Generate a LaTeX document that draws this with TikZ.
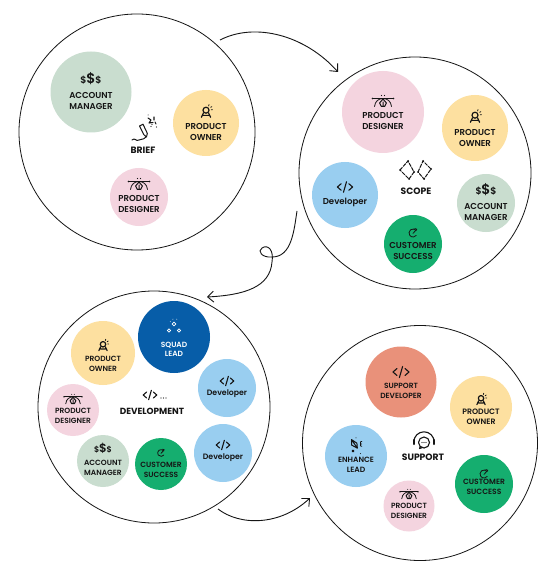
\documentclass[tikz,border=0pt]{standalone}
\usepackage{fontspec}
\setmainfont{Poppins}
\newfontfamily\labf{Poppins SemiBold}
\newfontfamily\headf{Poppins}
\usetikzlibrary{arrows.meta,calc}
\definecolor{sage}{HTML}{C9DDCF}
\definecolor{sun}{HTML}{FDE0A0}
\definecolor{rose}{HTML}{F4D4DF}
\definecolor{sky}{HTML}{99CEF0}
\definecolor{leaf}{HTML}{15AE6F}
\definecolor{navy}{HTML}{075DA8}
\definecolor{salmon}{HTML}{E9917A}
\definecolor{ink}{HTML}{151515}
\tikzset{
  big/.style={circle,draw=ink,line width=0.8pt,inner sep=0pt,outer sep=0pt,fill=white},
  bubble/.style={circle,inner sep=0pt,outer sep=0pt},
  lab/.style={align=center,inner sep=0pt,text=ink},
  head/.style={inner sep=0pt,text=ink,font=\headf\bfseries\fontsize{9.2}{11}\selectfont},
  flow/.style={draw=ink,line width=0.9pt,-{Straight Barb[length=6pt,width=11pt]}},
  ic/.style={draw=ink,line width=0.8pt,fill=none,line cap=round,line join=round},
  pics/tagcode/.style={code={
    \draw[ic,line width=1.1pt] (-4,-3.5)--(-8,0)--(-4,3.5) (4,-3.5)--(8,0)--(4,3.5) (1.6,-5.5)--(-1.6,5.5);}},
  pics/money/.style={code={
    \node[transform shape,inner sep=0pt,text=ink,font=\labf\fontsize{9.5}{10}\selectfont] at (-7.4,1) {\$};
    \node[transform shape,inner sep=0pt,text=ink,font=\labf\fontsize{9.5}{10}\selectfont] at (7.4,1) {\$};
    \node[transform shape,inner sep=0pt,text=ink,font=\labf\fontsize{14}{15}\selectfont] at (0,-0.5) {\$};}},
  pics/owner/.style={code={
    \draw[ic,line width=1.2pt] (0,-0.8) circle (3);
    \draw[ic,line width=1.2pt] (-4.6,6.3)--(-2.6,2) (4.6,6.3)--(2.6,2) (-2.6,4.4)--(2.6,4.4);
    \draw[ic] (2.6,-5)--(3,-6.4) (4.6,-3.6)--(5.8,-4.4) (5.2,-1.2)--(6.4,-1.2);}},
  pics/designer/.style={code={
    \draw[ic] (-10.5,-2.5)--(10.5,-2.5);
    \draw[ic] (-8.5,5.5) .. controls (-8,0) and (-4,-2.5) .. (0,-2.5) .. controls (4,-2.5) and (8,0) .. (8.5,5.5);
    \draw[ic,line width=1pt] (0,-2)--(-3.4,2)--(-1.6,5.5)--(1.6,5.5)--(3.4,2)--cycle (0,1)--(0,5.5);
    \fill[ink] (-10.5,-2.5) circle (0.9) (10.5,-2.5) circle (0.9) (-1.5,-5.5) circle (0.6) (1.5,-5.5) circle (0.6);}},
  pics/target/.style={code={
    \draw[ic] (3.2,-2.4) arc[start angle=-37,end angle=-323,radius=4];
    \draw[ic] (0,0.4)--(3.8,-3.8) (1.8,-4.4)--(3.8,-3.8);}},
  pics/squad/.style={code={
    \draw[draw=white,line width=0.8pt] (0,-1) circle (1.9) (-5,5.5) circle (1.6) (5,5.5) circle (1.6);
    \draw[draw=white,line width=0.8pt] (-3.6,-3.2)--(-4,-3.5) (-1,-5.6)--(-1.2,-6.1) (2.6,-5.6)--(2.9,-6);}},
  pics/enhance/.style={code={
    \draw[ic,line width=1pt] (-5,-6)--(-5,0)--(1.5,3.5)--(1,-2)--cycle (-5,-6)--(1.5,3.5);
    \fill[ink] (-4.5,5.5) rectangle (-2,8) (5,9.5) circle (0.6) (0,-8) circle (0.6);
    \draw[ic] (6.5,-4)--(5,-3.5)--(5,1)--(6.5,1.5) (5,-1.2)--(6.3,-1.2);}},
  pics/briefmark/.style={code={
    \draw[ic,line width=1pt] (-11,12) .. controls (-8,9) and (-7,14) .. (-4,12) .. controls (-2,10) and (-1,13) .. (3,9);
    \draw[ic,line width=1pt] (-3.5,-2)--(0,-3.8)--(4.3,5.3)--(3.5,9)--(0.8,6.6)--cycle;
    \draw[ic,line width=1.1pt] (5,-10)--(8,-8)--(6,-5)--(10,-5.5) (11,-11)--(11,-8) (12,-6)--(13,-4);
    \fill[ink] (13.5,-1) circle (0.7) (8,-1.5) circle (0.7) (5,-13) circle (0.5) (9,-3.5) circle (0.6);}},
  pics/scopemark/.style={code={
    \draw[ic,dash pattern=on 3.5pt off 1.4pt,line width=1pt] (-16,0)--(-8,-9)--(-2,2)--(-7,9)--cycle (2,2)--(7,-9)--(15,-1)--(8,9)--cycle;
    \fill[ink] (-16,0) circle (1) (-8,-9) circle (1) (-2,2) circle (1) (-7,9) circle (1) (2,2) circle (1) (7,-9) circle (1) (15,-1) circle (1) (8,9) circle (1);}},
  pics/headset/.style={code={
    \draw[ic,line width=1.1pt] (-10.2,3) arc[start angle=180,end angle=360,radius=10.2];
    \draw[ic,line width=2.2pt] (-10.2,1)--(-10.2,5) (10.2,1)--(10.2,5);
    \draw[ic,line width=1.1pt] (0,3.5) circle (5.5);
    \draw[ic,line width=1.1pt] (-3.8,7.5)--(-4.5,9.5)--(-1.5,8.5);
    \fill[ink] (-2,3.5) circle (0.6) (0,3.5) circle (0.6) (2,3.5) circle (0.6);}},
}
% id, x, y, radius, colour, text, font size, text offset
\newcommand\bub[8]{%
  \pgfmathsetmacro\bubline{#7*1.24}%
  \node[bubble,fill=#5,minimum size=#4*2pt] (#1) at (#2,#3) {};
  \node[lab,font=\labf\fontsize{#7}{\bubline}\selectfont] (#1t) at ($(#1)+(0,#8)$) {#6};}
% bubble id, pic name, offset, scale
\newcommand\ico[4]{\pic[scale=#4] at ($(#1)+(0,#3)$) {#2};}
\begin{document}
\begin{tikzpicture}[x=1pt,y=-1pt]
\useasboundingbox (0,0) rectangle (544,569);
\fill[white] (0,0) rectangle (544,569);
% big circles
\node[big,minimum size=236pt] (c1) at (137,132) {};
\node[big,minimum size=232pt] (c2) at (415,173) {};
\node[big,minimum size=232pt] (c3) at (154,407) {};
\node[big,minimum size=235pt] (c4) at (420,443) {};
% free ends of the connectors, just outside the circles
\coordinate (a1s) at ($(c1)+(83,-92)$);
\coordinate (a1e) at ($(c2)+(-77,-101)$);
\coordinate (a2s) at ($(c2)+(-118,38)$);
\coordinate (a2e) at ($(c3)+(53,-110)$);
\coordinate (a3s) at ($(c3)+(64,102)$);
\coordinate (a3e) at ($(c4)+(-110,55)$);
% connectors
\draw[flow] (a1s) .. controls (255,22) and (305,35) .. (a1e);
\draw[flow] (a2s)
  .. controls (294,230) and (292,257) .. (272,257)
  .. controls (262,258) and (257,251) .. (262,248)
  .. controls (268,244) and (274,250) .. (272,262)
  .. controls (270,287) and (245,295) .. (a2e);
\draw[flow] (a3s) .. controls (240,526) and (280,526) .. (a3e);
% brief
\bub{am1}{91}{92}{40.5}{sage}{ACCOUNT\\MANAGER}{8.6}{9}
\ico{am1}{money}{-13}{1}
\bub{po1}{206}{123}{33}{sun}{PRODUCT\\OWNER}{8.6}{9}
\ico{po1}{owner}{-12}{1}
\bub{pd1}{139}{197}{29}{rose}{PRODUCT\\DESIGNER}{8.6}{7}
\ico{pd1}{designer}{-13}{1}
\node[head] (brief) at (143,150) {BRIEF};
\pic at (143,128) {briefmark};
% scope
\bub{pd2}{383}{112}{41}{rose}{PRODUCT\\DESIGNER}{8.6}{9}
\ico{pd2}{designer}{-11}{1}
\bub{po2}{475}{128}{33}{sun}{PRODUCT\\OWNER}{8.6}{10}
\ico{po2}{owner}{-12}{1}
\bub{dv2}{345}{195}{33}{sky}{Developer}{8.6}{7}
\ico{dv2}{tagcode}{-8}{0.95}
\bub{am2}{486}{203}{29}{sage}{ACCOUNT\\MANAGER}{8.6}{9}
\ico{am2}{money}{-13}{1}
\bub{cs2}{413}{244}{29}{leaf}{CUSTOMER\\SUCCESS}{8.6}{7}
\ico{cs2}{target}{-11}{1}
\node[head] (scope) at (416,191) {SCOPE};
\pic at (416,170) {scopemark};
% development
\bub{sl3}{174}{337}{36}{navy}{\color{white}SQUAD\\\color{white}LEAD}{7.5}{12}
\ico{sl3}{squad}{-12}{1}
\bub{po3}{103}{353}{32}{sun}{PRODUCT\\OWNER}{7.5}{11}
\ico{po3}{owner}{-8}{0.9}
\bub{dv3}{227}{388}{29}{sky}{Developer}{7.8}{6}
\ico{dv3}{tagcode}{-7}{0.85}
\bub{dw3}{223}{453}{29}{sky}{Developer}{7.8}{5}
\ico{dw3}{tagcode}{-8}{0.85}
\bub{pd3}{73}{410}{26}{rose}{PRODUCT\\DESIGNER}{7.5}{6}
\ico{pd3}{designer}{-11}{0.85}
\bub{am3}{103}{461}{26}{sage}{ACCOUNT\\MANAGER}{7.5}{7}
\ico{am3}{money}{-12}{0.85}
\bub{cs3}{161}{464}{26}{leaf}{CUSTOMER\\SUCCESS}{7.5}{6}
\ico{cs3}{target}{-11}{0.85}
\node[head,font=\headf\bfseries\fontsize{8.9}{10}\selectfont] (dev) at (152,411) {DEVELOPMENT};
\pic[scale=0.85] at (150,395) (devmark) {tagcode};
\fill[ink] (161,398) circle (0.55) (163.5,398) circle (0.55) (166,398) circle (0.55);
% support
\bub{sd4}{401}{382}{35.5}{salmon}{SUPPORT\\DEVELOPER}{7.5}{9}
\ico{sd4}{tagcode}{-10}{1}
\bub{po4}{481}{407}{31}{sun}{PRODUCT\\OWNER}{7.8}{10}
\ico{po4}{owner}{-8}{0.9}
\bub{en4}{356}{456}{31}{sky}{ENHANCE\\LEAD}{7.6}{9}
\ico{en4}{enhance}{-11}{0.9}
\bub{cs4}{484}{484}{29}{leaf}{CUSTOMER\\SUCCESS}{7.6}{3}
\ico{cs4}{target}{-10}{1}
\bub{pd4}{409}{506}{25.5}{rose}{PRODUCT\\DESIGNER}{7.5}{5}
\ico{pd4}{designer}{-12}{0.85}
\node[head] (support) at (423,457) {SUPPORT};
\pic at (424,439) {headset};
\end{tikzpicture}
\end{document}
